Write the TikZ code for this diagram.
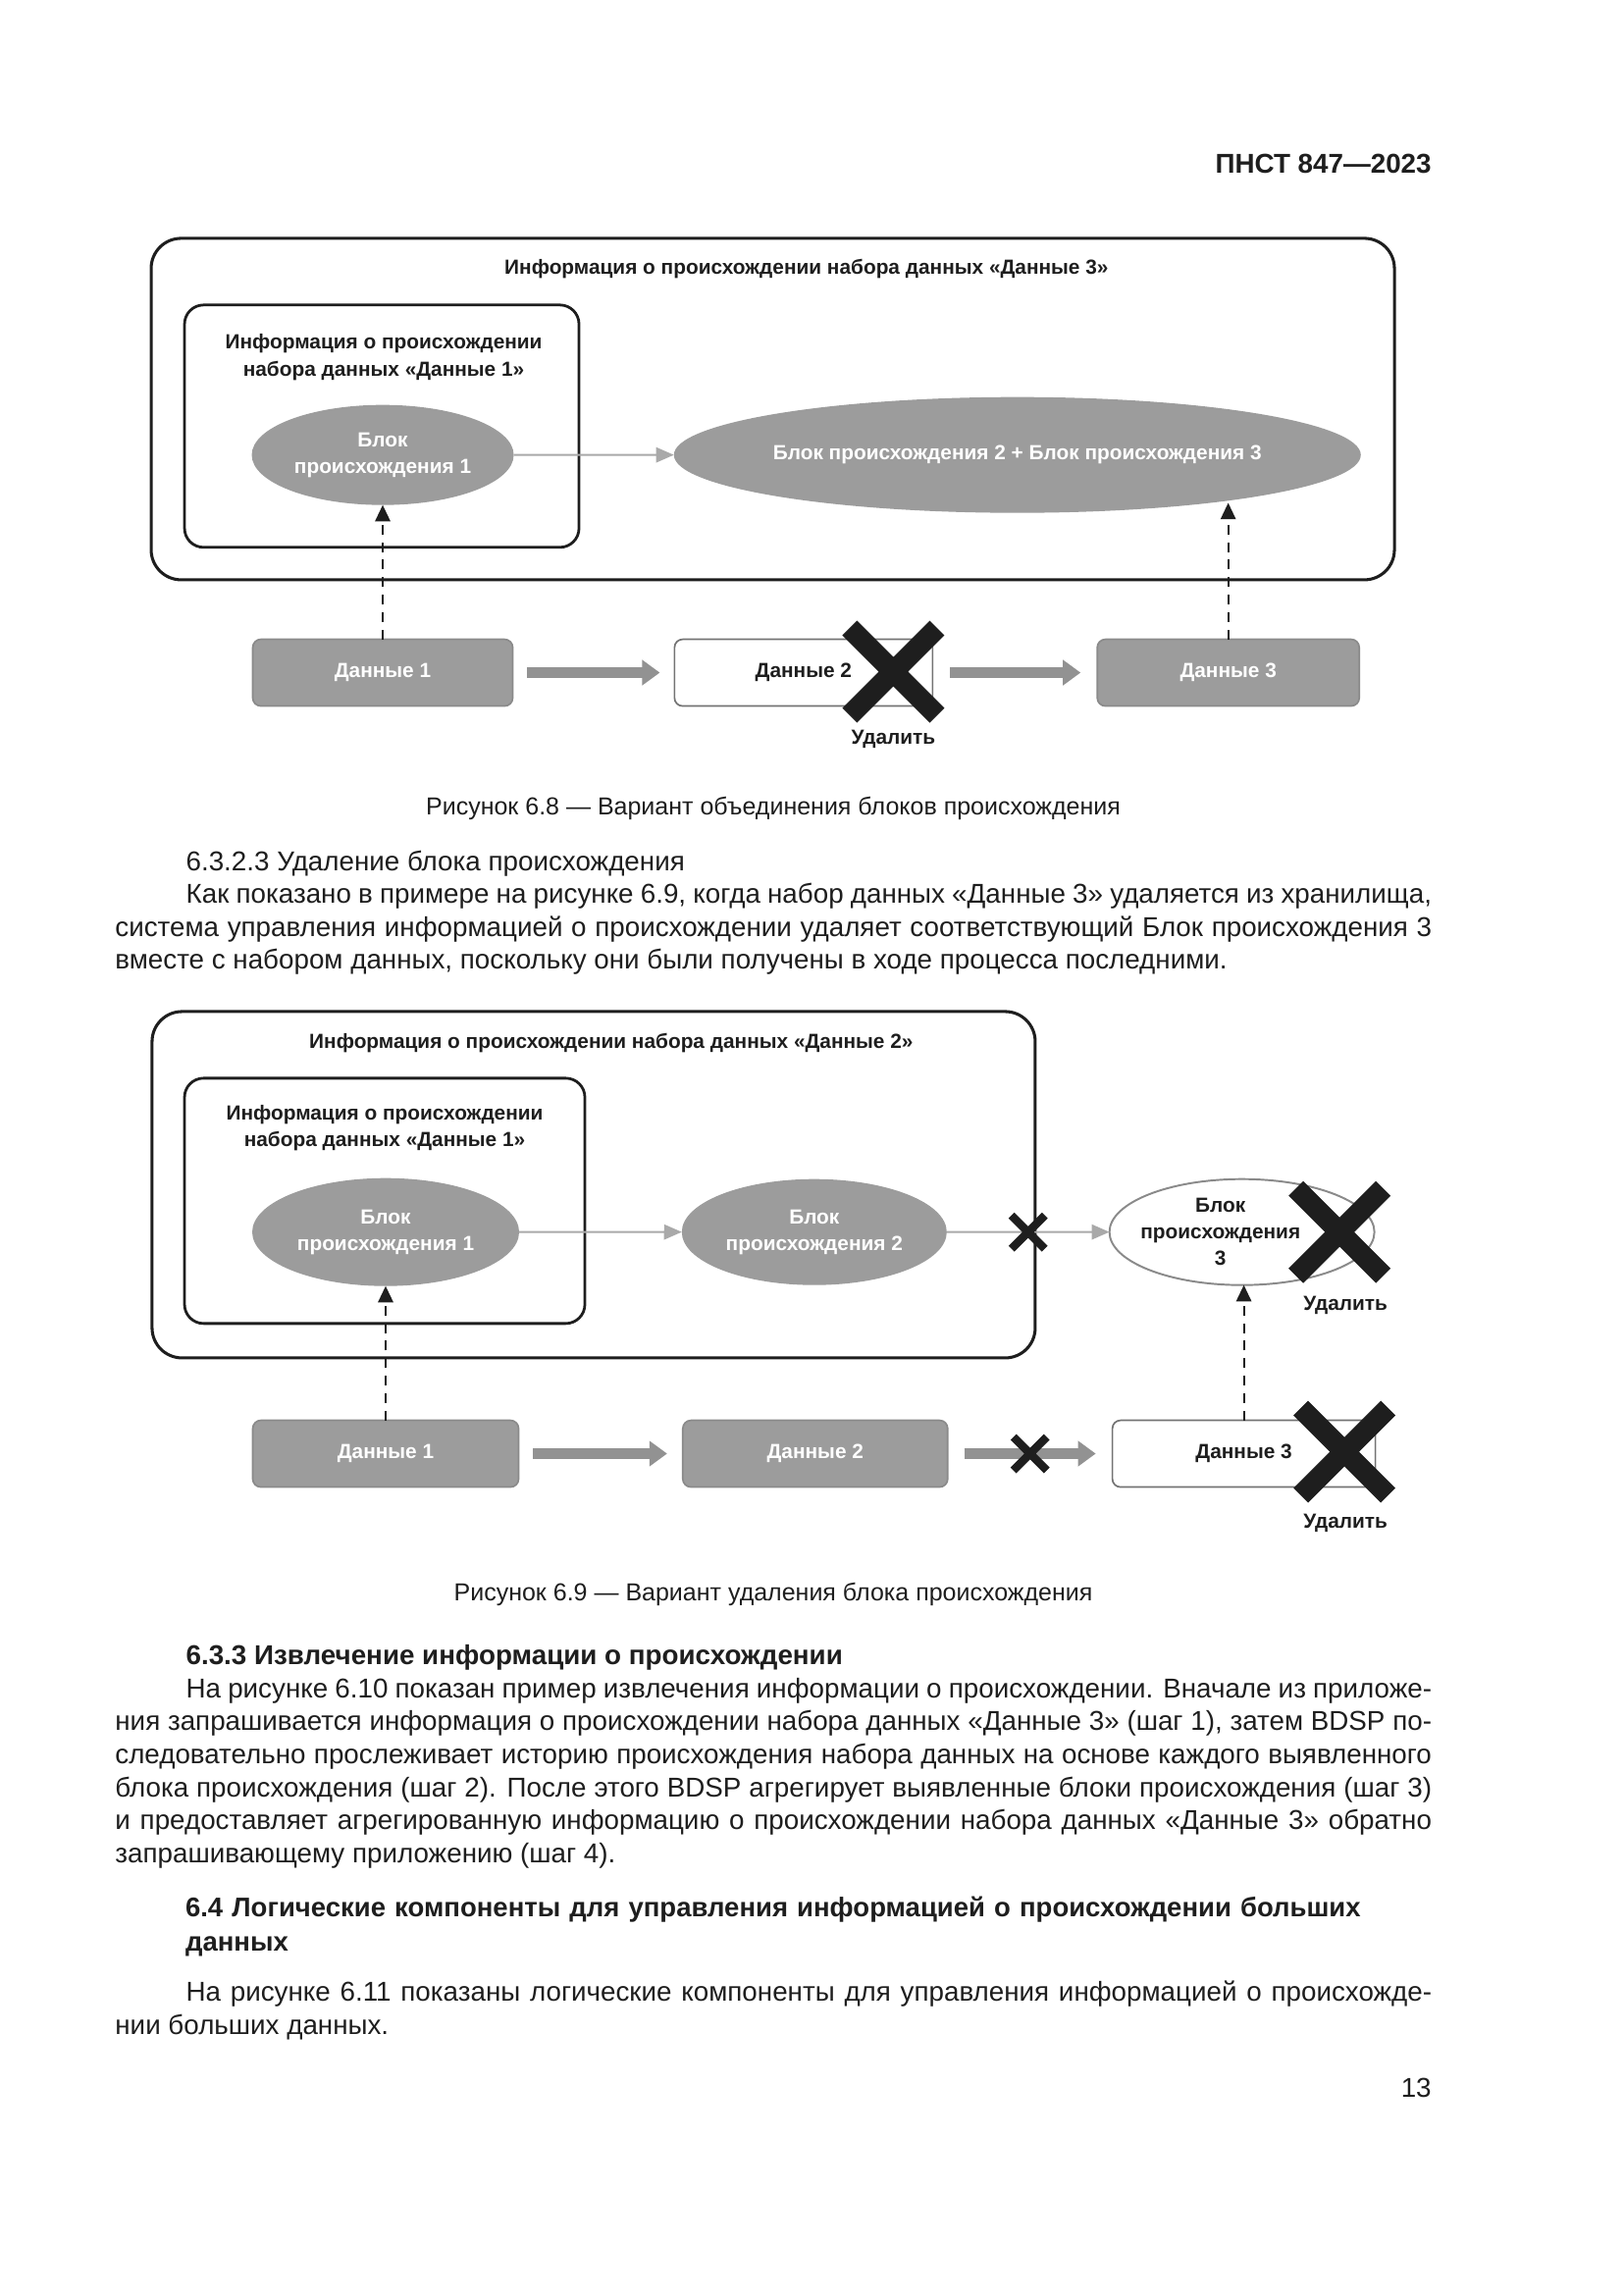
\documentclass[tikz,border=0pt]{standalone}
\usepackage{fontspec}
\setmainfont{Liberation Sans}
\usetikzlibrary{shapes.geometric,shapes.misc,arrows.meta,positioning}

\definecolor{blockgray}{HTML}{9C9C9C}
\definecolor{edgegray}{HTML}{8A8A8A}
\definecolor{flowgray}{HTML}{A9A9A9}
\definecolor{movegray}{HTML}{929292}
\definecolor{inkblack}{HTML}{1E1E1E}
\newcommand{\px}{0.36pt}
\newcommand{\bodyfont}{\fontsize{10}{12.1}\selectfont}
\newcommand{\diagfont}{\bfseries\fontsize{7.5}{9.8}\selectfont}
\tolerance=10000
\hyphenpenalty=10000

\begin{document}
\begin{tikzpicture}[x=0.36pt, y=-0.36pt, inner sep=0pt, outer sep=0pt]
    \tikzstyle{infobox}=[draw=inkblack, line width=1.1pt, rounded corners=11pt]
    \tikzstyle{subbox}=[draw=inkblack, line width=1pt, rounded corners=7pt]
    \tikzstyle{boxlabel}=[font=\diagfont, align=center, text=inkblack]
    \tikzstyle{provblock}=[ellipse, fill=blockgray, boxlabel, text=white]
    \tikzstyle{provdel}=[ellipse, fill=white, draw=edgegray, line width=0.7pt]
    \tikzstyle{dataset}=[rectangle, rounded corners=3pt, fill=blockgray, draw=edgegray, line width=0.6pt, boxlabel, text=white, minimum height=68*\px]
    \tikzstyle{datadel}=[dataset, fill=white, draw=black!55, text=inkblack]
    \tikzstyle{bigcross}=[cross out, draw=inkblack, line width=7.6pt, minimum size=89*\px]
    \tikzstyle{smallcross}=[cross out, draw=inkblack, line width=3pt, minimum size=34*\px]
    \tikzstyle{provflow}=[draw=flowgray, line width=0.7pt, -{Triangle[length=6.5pt,width=5.5pt]}]
    \tikzstyle{tracearrow}=[draw=inkblack, line width=0.75pt, dash pattern=on 3.6pt off 2.8pt, -{Triangle[length=6pt,width=5.5pt]}]
    \tikzstyle{dataflow}=[draw=movegray, line width=3.8pt, -{Triangle[length=6.5pt,width=9pt]}]
    \tikzstyle{para}=[anchor=north west, text width=483pt, align=justify, font=\bodyfont, text=inkblack]
    \tikzstyle{capt}=[font=\fontsize{9}{11}\selectfont, text=inkblack]

    \fill[white] (0,0) rectangle (1654,2339);
    \useasboundingbox (0,0) rectangle (1654,2339);

    \begin{scope}[scale=0.995]
    \node[anchor=east, font=\bfseries\fontsize{10}{12}\selectfont, text=inkblack] (hdr) at (1466,168) {ПНСТ 847—2023};

    % Рисунок 6.8
    \node[infobox, minimum width=1267*\px, minimum height=348*\px] (prov3) at (791.5,419) {};
    \node[boxlabel] (prov3t) at (826,275) {Информация о происхождении набора данных «Данные 3»};
    \node[subbox, minimum width=402*\px, minimum height=247*\px] (prov1a) at (391,436.5) {};
    \node[boxlabel] (prov1at) at (393,366) {Информация о происхождении\\набора данных «Данные 1»};
    \node[provblock, minimum width=267*\px, minimum height=102*\px] (blk1a) at (392,466) {Блок\\происхождения 1};
    \node[provblock, inner xsep=-3pt, minimum width=700*\px, minimum height=118*\px] (blk23) at (1042,466) {Блок происхождения 2 + Блок происхождения 3};
    \node[dataset, minimum width=265*\px] (dat1a) at (392,689) {Данные 1};
    \node[datadel, minimum width=263*\px] (dat2a) at (823,689) {Данные 2};
    \node[dataset, minimum width=267*\px] (dat3a) at (1258,689) {Данные 3};
    \draw[provflow] (blk1a) -- (blk23);
    \draw[tracearrow] (dat1a.north) -- (blk1a.south);
    \draw[tracearrow] (dat3a.north) -- (dat3a.north |- blk23.-14);
    \draw[dataflow] ([xshift=15*\px]dat1a.east) -- ([xshift=-15*\px]dat2a.west);
    \draw[dataflow] ([xshift=18*\px]dat2a.east) -- ([xshift=-17*\px]dat3a.west);
    \node[bigcross] (del2a) at (915,688) {};
    \node[boxlabel] (del2at) at (915,757) {Удалить};
    \node[capt] (cap68) at (792,828) {Рисунок 6.8 — Вариант объединения блоков происхождения};

    \node[para] (secA) at (118,871) {\hspace*{26pt}6.3.2.3 Удаление блока происхождения\par
        \hspace*{26pt}Как показано в примере на рисунке 6.9, когда набор данных «Данные 3» удаляется из хранилища,\linebreak
        система управления информацией о происхождении удаляет соответствующий Блок происхождения 3\linebreak
        вместе с набором данных, поскольку они были получены в ходе процесса последними.};

    % Рисунок 6.9
    \node[infobox, minimum width=900*\px, minimum height=353*\px] (prov2) at (608,1213.5) {};
    \node[boxlabel] (prov2t) at (626,1068) {Информация о происхождении набора данных «Данные 2»};
    \node[subbox, minimum width=408*\px, minimum height=250*\px] (prov1b) at (394,1230) {};
    \node[boxlabel] (prov1bt) at (394,1155) {Информация о происхождении\\набора данных «Данные 1»};
    \node[provblock, minimum width=272*\px, minimum height=110*\px] (blk1b) at (395,1262) {Блок\\происхождения 1};
    \node[provblock, minimum width=270*\px, minimum height=108*\px] (blk2b) at (834,1262) {Блок\\происхождения 2};
    \node[provdel, minimum width=270*\px, minimum height=108*\px] (blk3b) at (1272,1262) {};
    \node[boxlabel] (blk3bt) at (1250,1262) {Блок\\происхождения\\3};
    \node[dataset, minimum width=271*\px] (dat1b) at (395,1489) {Данные 1};
    \node[dataset, minimum width=270*\px] (dat2b) at (835,1489) {Данные 2};
    \node[datadel, minimum width=268*\px] (dat3b) at (1274,1489) {Данные 3};
    \draw[provflow] (blk1b) -- (blk2b);
    \draw[provflow] (blk2b) -- (blk3b);
    \draw[tracearrow] (dat1b.north) -- (blk1b.south);
    \draw[tracearrow] (dat3b.north) -- (dat3b.north |- blk3b.south);
    \draw[dataflow] ([xshift=15*\px]dat1b.east) -- ([xshift=-16*\px]dat2b.west);
    \draw[dataflow] ([xshift=17*\px]dat2b.east) -- ([xshift=-17*\px]dat3b.west);
    \node[smallcross] (cut1) at (1053,1262) {};
    \node[smallcross] (cut2) at (1055,1489) {};
    \node[bigcross] (del3b) at (1372,1262) {};
    \node[boxlabel] (del3bt) at (1378,1337) {Удалить};
    \node[bigcross] (deld3b) at (1377,1487) {};
    \node[boxlabel] (deld3bt) at (1378,1560) {Удалить};
    \node[capt] (cap69) at (792,1633) {Рисунок 6.9 — Вариант удаления блока происхождения};

    \node[para] (secB) at (118,1685) {\hspace*{26pt}\textbf{6.3.3 Извлечение информации о происхождении}\par
        \hspace*{26pt}На рисунке 6.10 показан пример извлечения информации о происхождении. Вначале из приложе-\linebreak
        ния запрашивается информация о происхождении набора данных «Данные 3» (шаг 1), затем BDSP по-\linebreak
        следовательно прослеживает историю происхождения набора данных на основе каждого выявленного\linebreak
        блока происхождения (шаг 2). После этого BDSP агрегирует выявленные блоки происхождения (шаг 3)\linebreak
        и предоставляет агрегированную информацию о происхождении набора данных «Данные 3» обратно\linebreak
        запрашивающему приложению (шаг 4).};
    \node[anchor=north west, text width=459pt, align=left, font=\bfseries\fontsize{9.9}{12.4}\selectfont, text=inkblack] (secC) at (190,1943) {6.4 Логические компоненты для управления информацией о происхождении больших\\данных};
    \node[para] (secD) at (118,2029) {\hspace*{26pt}На рисунке 6.11 показаны логические компоненты для управления информацией о происхожде-\linebreak
        нии больших данных.};
    \node[anchor=east, font=\bodyfont, text=inkblack] (pnum) at (1466,2139) {13};
    \end{scope}
\end{tikzpicture}
\end{document}
